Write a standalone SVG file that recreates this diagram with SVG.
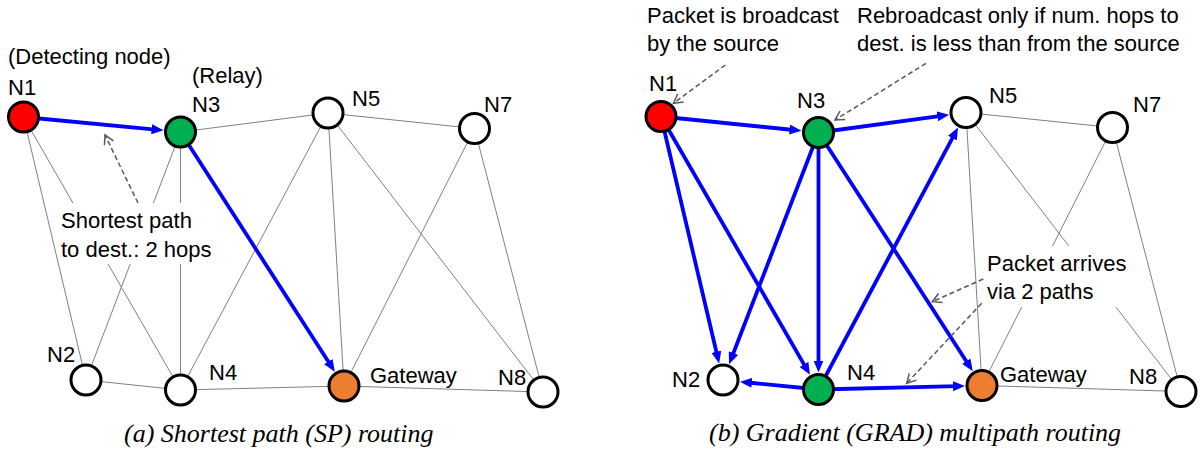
<svg xmlns="http://www.w3.org/2000/svg" width="1202" height="454" viewBox="0 0 1202 454">
<style>
.t{font-family:"Liberation Sans",Arial,sans-serif;font-size:22px;fill:#000}
.cap{font-family:"Liberation Serif","Times New Roman",serif;font-size:26px;font-style:italic;fill:#000}
.thin{stroke:#808080;stroke-width:1;fill:none}
.blue{stroke:#0000FF;stroke-width:3.8;fill:none;marker-end:url(#ah)}
.dash{stroke:#595959;stroke-width:1.5;stroke-dasharray:5,3;fill:none;marker-end:url(#oh)}
.n{stroke:#000;stroke-width:3}
</style>
<defs>
<marker id="ah" markerUnits="userSpaceOnUse" viewBox="0 0 12 10" refX="4" refY="5" markerWidth="12" markerHeight="10" orient="auto">
<path d="M0,0 L12,5 L0,10 z" fill="#0000FF"/>
</marker>
<marker id="oh" markerUnits="userSpaceOnUse" viewBox="-11 -6 13 12" refX="0" refY="0" markerWidth="13" markerHeight="12" orient="auto">
<path d="M-9,-5 L0,0 L-9,5" fill="none" stroke="#595959" stroke-width="1.5"/>
</marker>
</defs>
<rect width="1202" height="454" fill="#fff"/>

<g id="connectors">
<!-- left thin -->
<line class="thin" x1="23.5" y1="117" x2="86" y2="380"/>
<line class="thin" x1="23.5" y1="117" x2="180.5" y2="390"/>
<line class="thin" x1="180.5" y1="132" x2="86" y2="380"/>
<line class="thin" x1="180.5" y1="132" x2="180.5" y2="390"/>
<line class="thin" x1="180.5" y1="132" x2="328" y2="113"/>
<line class="thin" x1="328" y1="113" x2="180.5" y2="390"/>
<line class="thin" x1="328" y1="113" x2="344" y2="386"/>
<line class="thin" x1="328" y1="113" x2="543" y2="392"/>
<line class="thin" x1="328" y1="113" x2="474.5" y2="128.5"/>
<line class="thin" x1="474.5" y1="128.5" x2="344" y2="386"/>
<line class="thin" x1="474.5" y1="128.5" x2="543" y2="392"/>
<line class="thin" x1="86" y1="380" x2="180.5" y2="390"/>
<line class="thin" x1="180.5" y1="390" x2="344" y2="386"/>
<line class="thin" x1="344" y1="386" x2="543" y2="392"/>
<!-- right thin -->
<line class="thin" x1="966" y1="112.5" x2="1112.5" y2="127.5"/>
<line class="thin" x1="966" y1="112.5" x2="982" y2="385.5"/>
<line class="thin" x1="966" y1="112.5" x2="1181" y2="391.5"/>
<line class="thin" x1="1112.5" y1="127.5" x2="982" y2="385.5"/>
<line class="thin" x1="1112.5" y1="127.5" x2="1181" y2="391.5"/>
<line class="thin" x1="982" y1="385.5" x2="1181" y2="391.5"/>
<!-- label backgrounds -->
<rect x="60" y="203" width="155" height="61" fill="#fff"/>
<rect x="985" y="246" width="140" height="61" fill="#fff"/>
<!-- left blue -->
<line class="blue" x1="23.5" y1="117" x2="155.6" y2="129.6"/>
<line class="blue" x1="180.5" y1="132" x2="330.5" y2="365"/>
<!-- right blue -->
<line class="blue" x1="661" y1="116.5" x2="793.6" y2="130"/>
<line class="blue" x1="661" y1="116.5" x2="717.3" y2="355.7"/>
<line class="blue" x1="661" y1="116.5" x2="806" y2="367.85"/>
<line class="blue" x1="818.5" y1="132.5" x2="941.2" y2="115.9"/>
<line class="blue" x1="818.5" y1="132.5" x2="732" y2="356.7"/>
<line class="blue" x1="818.5" y1="132.5" x2="818.5" y2="364.5"/>
<line class="blue" x1="818.5" y1="132.5" x2="968.4" y2="364.5"/>
<line class="blue" x1="818.5" y1="389.5" x2="954.25" y2="134.6"/>
<line class="blue" x1="818.5" y1="389.5" x2="747.9" y2="382.5"/>
<line class="blue" x1="818.5" y1="389.5" x2="957" y2="386.1"/>
<!-- dashed annotation arrows -->
<line class="dash" x1="138" y1="203" x2="105" y2="135"/>
<line class="dash" x1="725.5" y1="65" x2="673.4" y2="103.3"/>
<line class="dash" x1="926" y1="63.3" x2="835" y2="120"/>
<line class="dash" x1="983.3" y1="279" x2="932.3" y2="301.7"/>
<line class="dash" x1="981.7" y1="303.3" x2="906.7" y2="383.3"/>
</g>

<g id="a-N1"><circle class="n" cx="23.5" cy="117" r="15" fill="#FF0000"/><text class="t" x="8" y="95">N1</text><text class="t" x="8" y="64">(Detecting node)</text></g>
<g id="a-N3"><circle class="n" cx="180.5" cy="132" r="15" fill="#00B050"/><text class="t" x="192" y="112">N3</text><text class="t" x="192" y="83">(Relay)</text></g>
<g id="a-N5"><circle class="n" cx="328" cy="113" r="15" fill="#fff"/><text class="t" x="352" y="106">N5</text></g>
<g id="a-N7"><circle class="n" cx="474.5" cy="128.5" r="15" fill="#fff"/><text class="t" x="484" y="112">N7</text></g>
<g id="a-N2"><circle class="n" cx="86" cy="380" r="15" fill="#fff"/><text class="t" x="47" y="362">N2</text></g>
<g id="a-N4"><circle class="n" cx="180.5" cy="390" r="15" fill="#fff"/><text class="t" x="209" y="380">N4</text></g>
<g id="a-GW"><circle class="n" cx="344" cy="386" r="15" fill="#ED7D31"/><text class="t" x="370" y="383">Gateway</text></g>
<g id="a-N8"><circle class="n" cx="543" cy="392" r="15" fill="#fff"/><text class="t" x="498" y="385">N8</text></g>
<g id="a-note"><text class="t" x="61" y="228">Shortest path</text><text class="t" x="61" y="257">to dest.: 2 hops</text></g>
<text class="cap" x="124" y="442">(a) Shortest path (SP) routing</text>

<g id="b-N1"><circle class="n" cx="661" cy="116.5" r="15" fill="#FF0000"/><text class="t" x="649" y="91">N1</text></g>
<g id="b-N3"><circle class="n" cx="818.5" cy="132.5" r="15" fill="#00B050"/><text class="t" x="797" y="108">N3</text></g>
<g id="b-N5"><circle class="n" cx="966" cy="112.5" r="15" fill="#fff"/><text class="t" x="989" y="103">N5</text></g>
<g id="b-N7"><circle class="n" cx="1112.5" cy="127.5" r="15" fill="#fff"/><text class="t" x="1133" y="112">N7</text></g>
<g id="b-N2"><circle class="n" cx="723" cy="380" r="15" fill="#fff"/><text class="t" x="672" y="387">N2</text></g>
<g id="b-N4"><circle class="n" cx="818.5" cy="389.5" r="15" fill="#00B050"/><text class="t" x="847" y="380">N4</text></g>
<g id="b-GW"><circle class="n" cx="982" cy="385.5" r="15" fill="#ED7D31"/><text class="t" x="1000" y="382">Gateway</text></g>
<g id="b-N8"><circle class="n" cx="1181" cy="391.5" r="15" fill="#fff"/><text class="t" x="1129" y="384">N8</text></g>
<g id="b-note1"><text class="t" x="647" y="23">Packet is broadcast</text><text class="t" x="647" y="51">by the source</text></g>
<g id="b-note2"><text class="t" x="857" y="23">Rebroadcast only if num. hops to</text><text class="t" x="857" y="51">dest. is less than from the source</text></g>
<g id="b-note3"><text class="t" x="987" y="271">Packet arrives</text><text class="t" x="987" y="299">via 2 paths</text></g>
<text class="cap" x="709" y="441">(b) Gradient (GRAD) multipath routing</text>
</svg>
